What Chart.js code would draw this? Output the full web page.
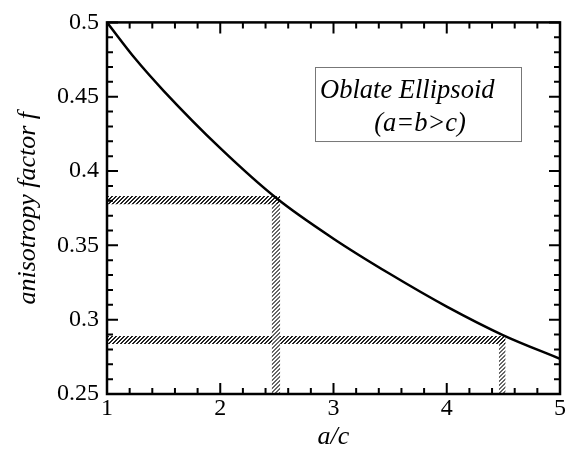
<!DOCTYPE html>
<html>
<head>
<meta charset="utf-8">
<script src="https://cdn.jsdelivr.net/npm/chart.js@4.4.0/dist/chart.umd.min.js"></script>
<style>
  html, body { margin: 0; padding: 0; background: #fff; }
  #wrap { width: 569px; height: 455px; }
</style>
</head>
<body>
<div id="wrap"><canvas id="chart"></canvas></div>
<script>
// anisotropy factor f vs a/c
const ratio  = [1, 1.25, 1.5, 2, 2.5, 3, 3.5, 4, 4.5, 5];
const factor = [0.500, 0.4755, 0.454, 0.4154, 0.3815, 0.3545, 0.3307, 0.3088, 0.2895, 0.2737];

// hatched guide bands (a/c, f)
const upperBandX      = [1, 2.53];
const upperBandTop    = [0.3832, 0.3832];
const upperBandBottom = [0.3776, 0.3776];
const upperDropX      = [2.454, 2.53];
const upperDropTop    = [0.3776, 0.3776];
const lowerBandX      = [1, 4.52];
const lowerBandTop    = [0.2891, 0.2891];
const lowerBandBottom = [0.2836, 0.2836];
const lowerDropX      = [4.46, 4.52];
const lowerDropTop    = [0.2836, 0.2836];

// tick labels
const xTicks = [1, 2, 3, 4, 5];
const xTickLabels = ['1', '2', '3', '4', '5'];
const yTicks = [0.25, 0.3, 0.35, 0.4, 0.45, 0.5];
const yTickLabels = ['0.25', '0.3', '0.35', '0.4', '0.45', '0.5'];

// label box corners in data units
const boxX = [2.837, 4.656];
const boxY = [0.4702, 0.4204];
const boxLines = ['Oblate Ellipsoid', '(a=b>c)'];

const serif = '"Liberation Serif", "DejaVu Serif", serif';

function pts(xs, ys) {
  return xs.map((x, i) => ({x: x, y: ys[i]}));
}

function hatch(color) {
  const c = document.createElement('canvas');
  c.width = 4; c.height = 4;
  const g = c.getContext('2d');
  g.fillStyle = '#fff';
  g.fillRect(0, 0, 4, 4);
  g.fillStyle = color;
  for (let i = 0; i < 4; i++) {
    g.fillRect(3 - i, i, 1, 1);
    g.fillRect((4 - i) % 4, i, 1, 1);
  }
  return g.createPattern(c, 'repeat');
}

function labelFor(ticks, labels, v) {
  const i = ticks.findIndex(t => Math.abs(t - v) < 1e-6);
  return i >= 0 ? labels[i] : '';
}

function band(data, fill, pattern) {
  return {
    data: data,
    fill: fill,
    backgroundColor: pattern,
    borderColor: 'transparent',
    borderWidth: 0,
    pointRadius: 0,
    tension: 0
  };
}

const frameTicks = {
  id: 'frameTicks',
  afterDraw(chart) {
    const {ctx, chartArea: a, scales: {x, y}} = chart;
    ctx.save();
    ctx.strokeStyle = '#000';
    ctx.lineWidth = 2;
    ctx.beginPath();
    x.ticks.forEach(t => {
      const px = x.getPixelForValue(t.value);
      const len = Math.abs(t.value - Math.round(t.value)) < 1e-6 ? 11 : 6;
      ctx.moveTo(px, a.bottom); ctx.lineTo(px, a.bottom - len);
      ctx.moveTo(px, a.top); ctx.lineTo(px, a.top + len);
    });
    y.ticks.forEach(t => {
      const py = y.getPixelForValue(t.value);
      const len = Math.abs(t.value * 20 - Math.round(t.value * 20)) < 1e-6 ? 11 : 6;
      ctx.moveTo(a.left, py); ctx.lineTo(a.left + len, py);
      ctx.moveTo(a.right, py); ctx.lineTo(a.right - len, py);
    });
    ctx.stroke();
    ctx.lineWidth = 2.5;
    ctx.strokeRect(a.left, a.top, a.right - a.left, a.bottom - a.top);

    // label box
    const bx0 = x.getPixelForValue(boxX[0]), bx1 = x.getPixelForValue(boxX[1]);
    const by0 = y.getPixelForValue(boxY[0]), by1 = y.getPixelForValue(boxY[1]);
    ctx.lineWidth = 1;
    ctx.strokeStyle = '#777';
    ctx.strokeRect(Math.round(bx0) + 0.5, Math.round(by0) + 0.5, bx1 - bx0, by1 - by0);
    ctx.fillStyle = '#000';
    ctx.font = 'italic 26.5px ' + serif;
    ctx.textBaseline = 'alphabetic';
    ctx.textAlign = 'left';
    ctx.fillText(boxLines[0], bx0 + 5, by0 + 31);
    ctx.textAlign = 'center';
    ctx.fillText(boxLines[1], (bx0 + bx1) / 2 + 2, by0 + 64);
    ctx.restore();
  }
};

function draw() {
  const ctx = document.getElementById('chart').getContext('2d');
  const darkHatch = hatch('#222');
  const greyHatch = hatch('#666');

  new Chart(ctx, {
    type: 'line',
    data: {
      datasets: [
        {
          data: pts(ratio, factor),
          borderColor: '#000',
          borderWidth: 2.5,
          pointRadius: 0,
          fill: false,
          cubicInterpolationMode: 'monotone'
        },
        band(pts(upperBandX, upperBandTop), '+1', darkHatch),
        band(pts(upperBandX, upperBandBottom), false, darkHatch),
        band(pts(upperDropX, upperDropTop), 'start', greyHatch),
        band(pts(lowerBandX, lowerBandTop), '+1', darkHatch),
        band(pts(lowerBandX, lowerBandBottom), false, darkHatch),
        band(pts(lowerDropX, lowerDropTop), 'start', greyHatch)
      ]
    },
    options: {
      responsive: true,
      maintainAspectRatio: false,
      animation: false,
      layout: { padding: { top: 17, right: 9, bottom: 0, left: 0 } },
      plugins: {
        legend: { display: false },
        tooltip: { enabled: false }
      },
      scales: {
        x: {
          type: 'linear',
          min: 1, max: 5,
          grid: { display: false, drawTicks: false },
          border: { display: false },
          ticks: {
            stepSize: 0.2,
            autoSkip: false,
            maxRotation: 0,
            padding: 0,
            color: '#000',
            font: { family: serif, size: 24 },
            callback: v => labelFor(xTicks, xTickLabels, v)
          },
          title: {
            display: true,
            text: 'a/c',
            color: '#000',
            font: { family: serif, size: 26, style: 'italic' },
            padding: { top: 0, bottom: 2 }
          },
          afterFit(s) { s.height = 61; }
        },
        y: {
          type: 'linear',
          min: 0.25, max: 0.5,
          grid: { display: false, drawTicks: false },
          border: { display: false },
          ticks: {
            stepSize: 0.01,
            autoSkip: false,
            padding: 8,
            color: '#000',
            font: { family: serif, size: 24 },
            callback: v => labelFor(yTicks, yTickLabels, v)
          },
          title: {
            display: true,
            text: 'anisotropy factor f',
            color: '#000',
            font: { family: serif, size: 26, style: 'italic' },
            padding: { top: 13, bottom: 0 }
          },
          afterFit(s) { s.width = 107; }
        }
      }
    },
    plugins: [frameTicks]
  });
}

Promise.all([
  document.fonts.load('24px "Liberation Serif"'),
  document.fonts.load('italic 26px "Liberation Serif"')
]).then(draw, draw);
</script>
</body>
</html>
